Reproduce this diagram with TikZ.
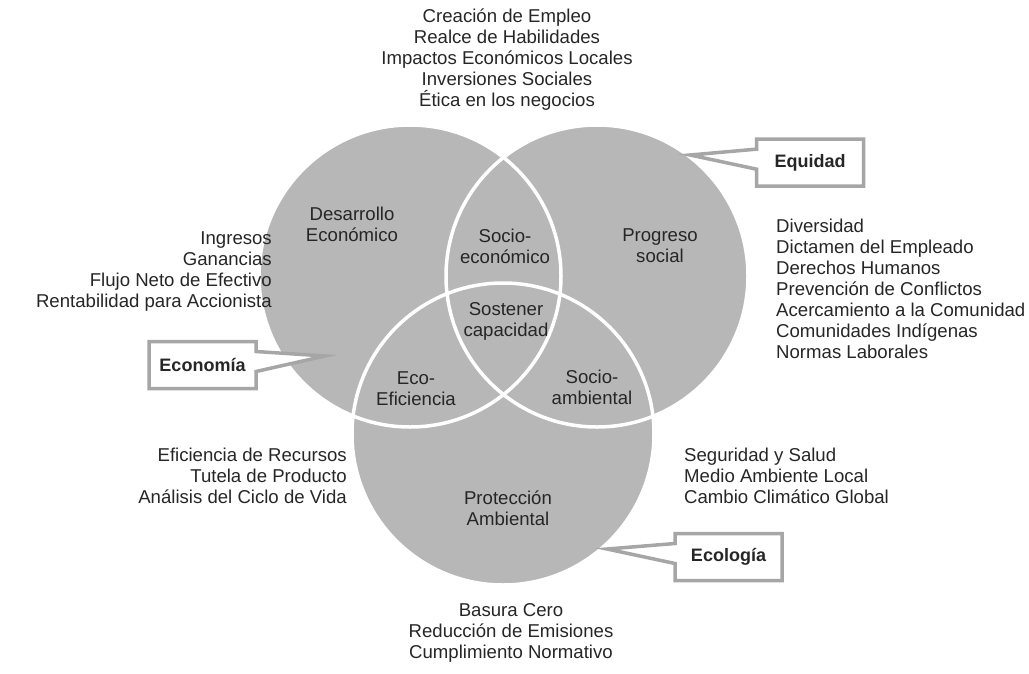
\documentclass[tikz,border=0pt]{standalone}
\usepackage{fontspec}
\setmainfont{Liberation Sans}
\usepackage{xcolor}
\usetikzlibrary{positioning,shapes.callouts}
\definecolor{vfill}{HTML}{B7B7B7}
\definecolor{vtext}{HTML}{262626}
\definecolor{vframe}{HTML}{A6A6A6}
\tikzset{
  lobe/.style = {fill=vfill},
  rim/.style  = {draw=white, line width=3.5pt},
  t/.style    = {inner sep=0pt, text=vtext, font=\fontsize{18.6}{21}\selectfont},
  tc/.style   = {t, align=center},
  tl/.style   = {t, align=left, anchor=west},
  tr/.style   = {t, align=right, anchor=east},
  tag/.style  = {rectangle callout, draw=vframe, fill=white, line width=3.5pt,
                 minimum width=107pt, minimum height=47pt, callout pointer width=20pt,
                 text=vtext, font=\fontsize{18}{21}\selectfont\bfseries},
}

\begin{document}
\begin{tikzpicture}[x=1pt, y=-1pt]
\useasboundingbox (0,0) rectangle (1029,673);

% ---- the three circles
\coordinate (cE) at (410,276);
\coordinate (cS) at (597,276);
\coordinate (cA) at (503,434);
\fill[lobe] (cE) circle[radius=151];
\fill[lobe] (cS) circle[radius=151];
\fill[lobe] (cA) circle[radius=151];
\draw[rim] (cE) circle[radius=151];
\draw[rim] (cS) circle[radius=151];
\draw[rim] (cA) circle[radius=151];

% ---- regions
\node[tc] (dev)  at (352,224) {Desarrollo\\Económico};
\node[tc] (seco) at (505,246) {Socio-\\económico};
\node[tc] (prog) at (660,246) {Progreso\\social};
\node[tc] (sust) at (506,321) {Sostener\\capacidad};
\node[tc] (eeff) at (416,389) {Eco-\\Eficiencia};
\node[tc] (samb) at (592,387) {Socio-\\ambiental};
\node[tc] (prot) at (508,508) {Protección\\Ambiental};

% ---- lists round the outside
\node[tc] (ltop) at (507,60)
  {Creación de Empleo\\Realce de Habilidades\\Impactos Económicos Locales\\Inversiones Sociales\\Ética en los negocios};
\node[tr] (lleft) at (272,272)
  {Ingresos\\Ganancias\\Flujo Neto de Efectivo\\Rentabilidad para Accionista};
\node[tl] (lright) at (776,289)
  {Diversidad\\Dictamen del Empleado\\Derechos Humanos\\Prevención de Conflictos\\Acercamiento a la Comunidad\\Comunidades Indígenas\\Normas Laborales};
\node[tr] (lbl) at (347,476)
  {Eficiencia de Recursos\\Tutela de Producto\\Análisis del Ciclo de Vida};
\node[tl] (lbr) at (684,476)
  {Seguridad y Salud\\Medio Ambiente Local\\Cambio Climático Global};
\node[tc] (lbot) at (511,633)
  {Basura Cero\\Reducción de Emisiones\\Cumplimiento Normativo};

% ---- callouts
\node[tag, callout absolute pointer={(690,155)}] (equ) at (810,162.5) {Equidad};
\node[tag, callout absolute pointer={(325,356)}] (ecn) at (202.5,365) {Economía};
\node[tag, callout absolute pointer={(607,549)}] (ecl) at (728.5,557) {Ecología};

\end{tikzpicture}
\end{document}
